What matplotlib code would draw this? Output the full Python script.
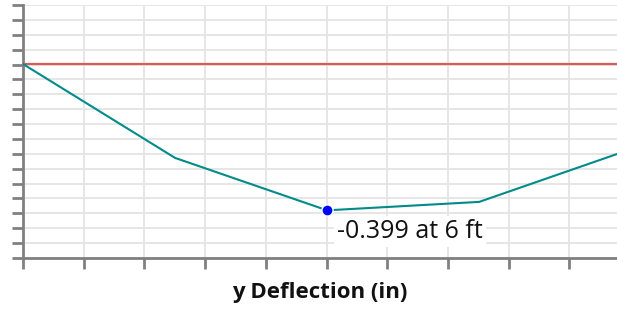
import numpy as np
import matplotlib
matplotlib.use('Agg')
import matplotlib.pyplot as plt

# beam deflection samples
position_ft = [0, 3, 6, 9, 12]
deflection_in = [0.0, -0.256, -0.399, -0.376, -0.232]
min_idx = 2
min_label = '-0.399 at 6 ft'

plt.rcParams['font.family'] = ['Open Sans', 'DejaVu Sans']

fig = plt.figure(figsize=(6.17, 3.09), dpi=100)
ax = fig.add_axes([23 / 617, 51 / 309, 594 / 617, 253 / 309])

ax.set_xlim(0, 11.72)
ax.set_ylim(-0.529, 0.161)
ax.set_xticks(np.arange(0, 11.72, 1.198))
ax.set_yticks(np.linspace(-0.529, 0.161, 18))
ax.set_xticklabels([])
ax.set_yticklabels([])

ax.grid(True, color='#e4e4e4', linewidth=1.3)
ax.set_axisbelow(True)
for s in ['top', 'right']:
    ax.spines[s].set_visible(False)
for s in ['left', 'bottom']:
    ax.spines[s].set_color('#808080')
    ax.spines[s].set_linewidth(2)
ax.tick_params(length=8, width=2, color='#808080', direction='out')

ax.axhline(0, color='#d95a5a', linewidth=1.6, zorder=3)
ax.plot(position_ft, deflection_in, color='#008b8b', linewidth=1.5, zorder=4)
ax.plot(position_ft[min_idx], deflection_in[min_idx], 'o', color='#0000ff',
        markersize=8, markeredgecolor='white', markeredgewidth=1, zorder=5)
ax.annotate(min_label, (position_ft[min_idx], deflection_in[min_idx]),
            xytext=(7, -6), textcoords='offset points', ha='left', va='top',
            fontsize=18, color='#111111', zorder=6,
            bbox=dict(boxstyle='square,pad=0.12', facecolor='white', edgecolor='none'))

ax.set_xlabel('y Deflection (in)', fontsize=16, fontweight='bold', color='#111111', labelpad=6)

fig.savefig('out.png', dpi=100)
